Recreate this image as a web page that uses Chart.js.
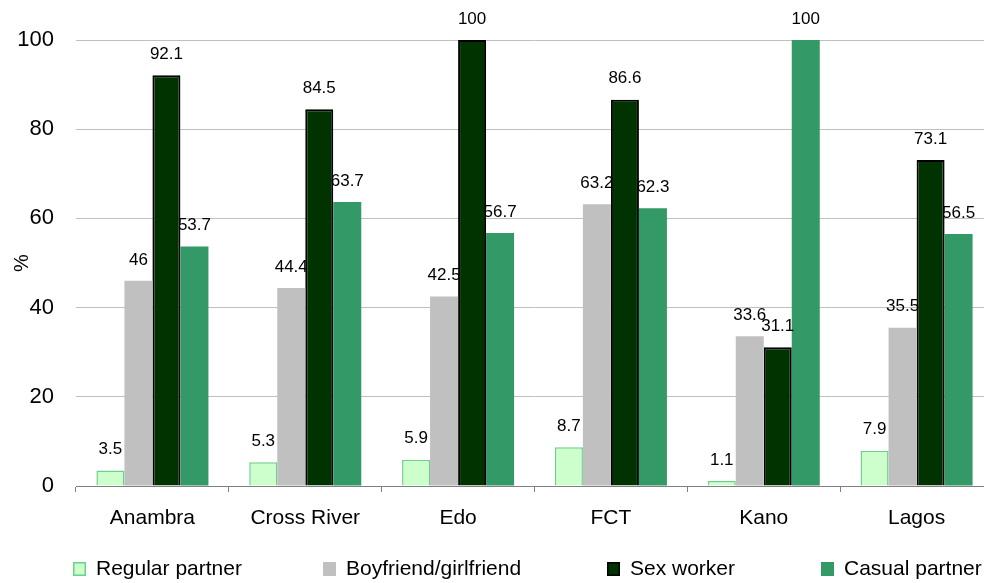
<!DOCTYPE html>
<html>
<head>
<meta charset="utf-8">
<script src="https://cdn.jsdelivr.net/npm/chart.js@4.4.1/dist/chart.umd.min.js"></script>
<style>
  html, body { margin: 0; padding: 0; background: #fff; overflow: hidden; }
  #wrap { position: absolute; left: 0; top: 0; width: 1000px; height: 583px; }
</style>
</head>
<body>
<div id="wrap"><canvas id="chart" width="1000" height="583"></canvas></div>
<script>
// data
const states = ["Anambra", "Cross River", "Edo", "FCT", "Kano", "Lagos"];
const regularPartner = [3.5, 5.3, 5.9, 8.7, 1.1, 7.9];
const boyfriendGirlfriend = [46, 44.4, 42.5, 63.2, 33.6, 35.5];
const sexWorker = [92.1, 84.5, 100, 86.6, 31.1, 73.1];
const casualPartner = [53.7, 63.7, 56.7, 62.3, 100, 56.5];
const yTicks = [0, 20, 40, 60, 80, 100];

const FONT = '"Liberation Sans", Arial, sans-serif';
Chart.defaults.font.family = FONT;
Chart.defaults.color = "#000";

// value above every bar
const valueLabels = {
  id: "valueLabels",
  afterDatasetsDraw(chart) {
    const ctx = chart.ctx;
    ctx.save();
    ctx.font = "17px " + FONT;
    ctx.fillStyle = "#000";
    ctx.textAlign = "center";
    ctx.textBaseline = "middle";
    chart.data.datasets.forEach((ds, i) => {
      chart.getDatasetMeta(i).data.forEach((bar, j) => {
        ctx.fillText(String(ds.data[j]), bar.x, bar.y - 21);
      });
    });
    ctx.restore();
  },
};

// legend along the bottom, item starts as in the original
const legendX = [73, 323, 607, 821];
const bottomLegend = {
  id: "bottomLegend",
  afterDraw(chart) {
    const ctx = chart.ctx;
    ctx.save();
    ctx.font = "21px " + FONT;
    ctx.textBaseline = "middle";
    ctx.textAlign = "left";
    const y = 569;
    chart.data.datasets.forEach((ds, i) => {
      const x = legendX[i];
      ctx.fillStyle = ds.backgroundColor;
      ctx.fillRect(x, y - 7, 13, 14);
      if (ds.borderWidth) {
        ctx.strokeStyle = ds.borderColor;
        ctx.lineWidth = 1.5;
        ctx.strokeRect(x + 0.75, y - 6.25, 11.5, 12.5);
      }
      ctx.fillStyle = "#000";
      ctx.fillText(ds.label, x + 23, y);
    });
    ctx.restore();
  },
};

new Chart(document.getElementById("chart"), {
  type: "bar",
  data: {
    labels: states,
    datasets: [
      {
        label: "Regular partner",
        data: regularPartner,
        backgroundColor: "#ccffcc",
        borderColor: "#6fcf8c",
        borderWidth: 1.5,
      },
      {
        label: "Boyfriend/girlfriend",
        data: boyfriendGirlfriend,
        backgroundColor: "#c0c0c0",
        borderWidth: 0,
      },
      {
        label: "Sex worker",
        data: sexWorker,
        backgroundColor: "#003300",
        borderColor: "#000000",
        borderWidth: 2,
      },
      {
        label: "Casual partner",
        data: casualPartner,
        backgroundColor: "#339966",
        borderWidth: 0,
      },
    ],
  },
  options: {
    responsive: false,
    animation: false,
    layout: { padding: { top: 40, left: 0, right: 7, bottom: 37 } },
    datasets: { bar: { barPercentage: 1, categoryPercentage: 0.733 } },
    plugins: { legend: { display: false }, tooltip: { enabled: false } },
    scales: {
      x: {
        offset: true,
        grid: {
          display: true,
          offset: true,
          drawOnChartArea: false,
          tickLength: 6,
          color: "#808080",
        },
        border: { display: true, color: "#808080", width: 1 },
        ticks: { font: { size: 21 }, padding: 14, color: "#000" },
        afterFit(scale) { scale.height = 60; },
      },
      y: {
        min: 0,
        max: 100,
        afterBuildTicks(scale) { scale.ticks = yTicks.map((v) => ({ value: v })); },
        grid: { color: "#c0c0c0", drawTicks: false, lineWidth: 1 },
        border: { display: false },
        ticks: { font: { size: 22 }, padding: 22, color: "#000" },
        title: {
          display: true,
          text: "%",
          font: { size: 20 },
          color: "#000",
          padding: { top: 10, bottom: 0 },
        },
        afterFit(scale) { scale.width = 76; },
      },
    },
  },
  plugins: [valueLabels, bottomLegend],
});
</script>
</body>
</html>
